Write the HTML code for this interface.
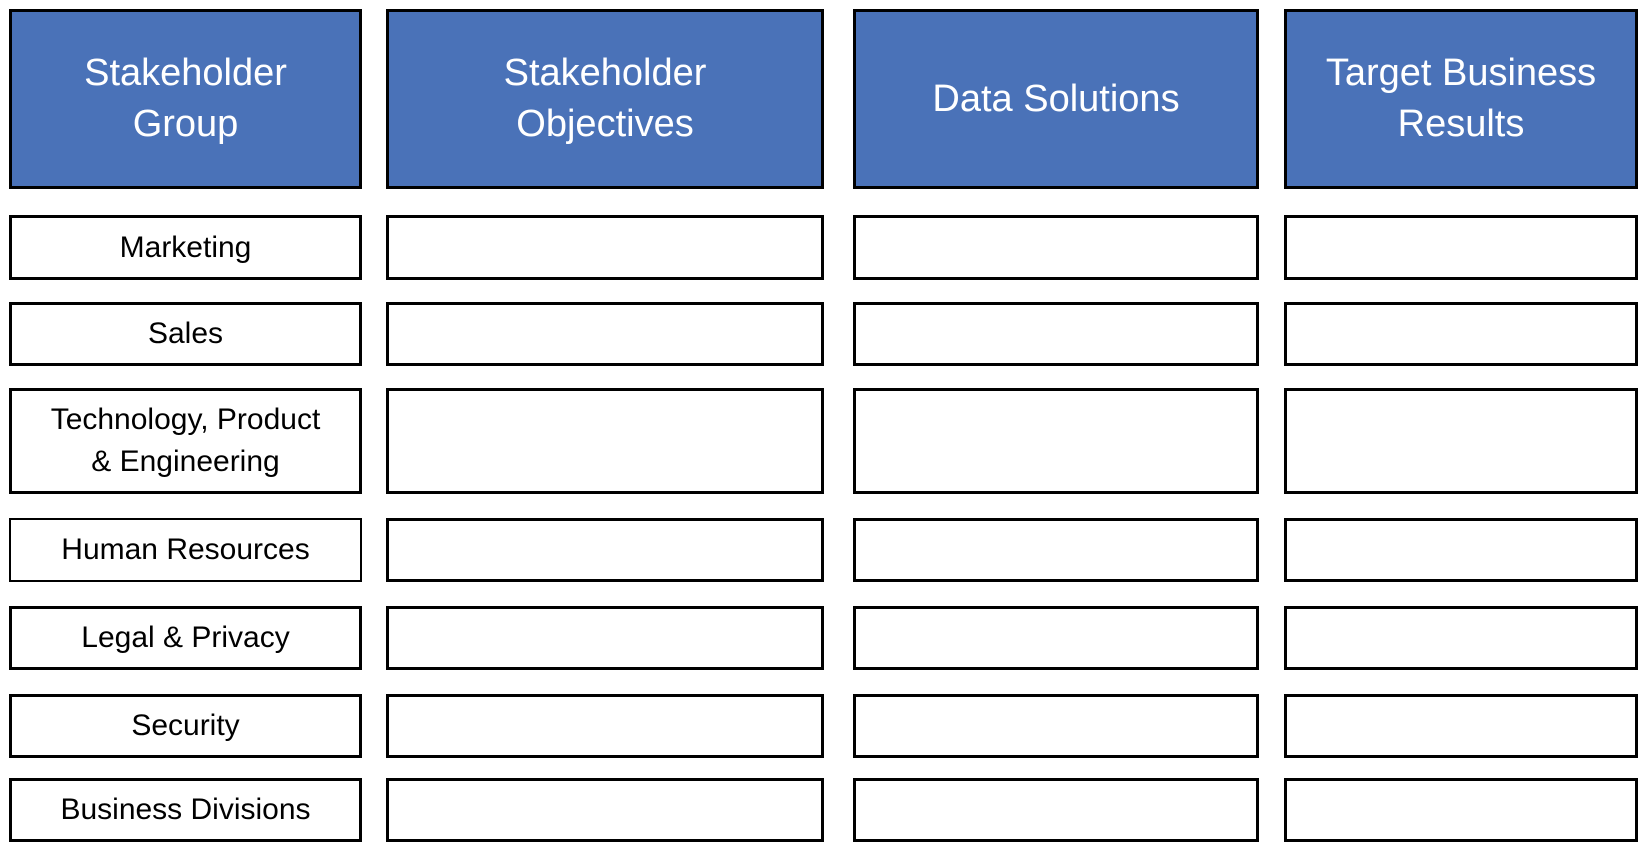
<!DOCTYPE html>
<html><head><style>
body{margin:0;width:1645px;height:850px;background:#fff;position:relative;overflow:hidden;font-family:"Liberation Sans",sans-serif}
.b{position:absolute;box-sizing:border-box;border:3px solid #000;display:flex;align-items:center;justify-content:center;text-align:center}
.h{background:#4a72b8;color:#fff;font-size:38px;line-height:51px}
.r{background:#fff;color:#000;font-size:30px;line-height:42px}
</style></head><body>
<div class="b h" style="left:9px;top:9px;width:353px;height:180px">Stakeholder<br>Group</div>
<div class="b h" style="left:386px;top:9px;width:438px;height:180px">Stakeholder<br>Objectives</div>
<div class="b h" style="left:853px;top:9px;width:406px;height:180px">Data Solutions</div>
<div class="b h" style="left:1284px;top:9px;width:354px;height:180px">Target Business<br>Results</div>

<div class="b r" style="left:9px;top:215px;width:353px;height:65px">Marketing</div>
<div class="b r" style="left:9px;top:302px;width:353px;height:64px">Sales</div>
<div class="b r" style="left:9px;top:388px;width:353px;height:106px">Technology, Product<br>&amp; Engineering</div>
<div class="b r" style="left:9px;top:518px;width:353px;height:64px;border-width:2px">Human Resources</div>
<div class="b r" style="left:9px;top:606px;width:353px;height:64px">Legal &amp; Privacy</div>
<div class="b r" style="left:9px;top:694px;width:353px;height:64px">Security</div>
<div class="b r" style="left:9px;top:778px;width:353px;height:64px">Business Divisions</div>

<div class="b r" style="left:386px;top:215px;width:438px;height:65px"></div>
<div class="b r" style="left:386px;top:302px;width:438px;height:64px"></div>
<div class="b r" style="left:386px;top:388px;width:438px;height:106px"></div>
<div class="b r" style="left:386px;top:518px;width:438px;height:64px"></div>
<div class="b r" style="left:386px;top:606px;width:438px;height:64px"></div>
<div class="b r" style="left:386px;top:694px;width:438px;height:64px"></div>
<div class="b r" style="left:386px;top:778px;width:438px;height:64px"></div>

<div class="b r" style="left:853px;top:215px;width:406px;height:65px"></div>
<div class="b r" style="left:853px;top:302px;width:406px;height:64px"></div>
<div class="b r" style="left:853px;top:388px;width:406px;height:106px"></div>
<div class="b r" style="left:853px;top:518px;width:406px;height:64px"></div>
<div class="b r" style="left:853px;top:606px;width:406px;height:64px"></div>
<div class="b r" style="left:853px;top:694px;width:406px;height:64px"></div>
<div class="b r" style="left:853px;top:778px;width:406px;height:64px"></div>

<div class="b r" style="left:1284px;top:215px;width:354px;height:65px"></div>
<div class="b r" style="left:1284px;top:302px;width:354px;height:64px"></div>
<div class="b r" style="left:1284px;top:388px;width:354px;height:106px"></div>
<div class="b r" style="left:1284px;top:518px;width:354px;height:64px"></div>
<div class="b r" style="left:1284px;top:606px;width:354px;height:64px"></div>
<div class="b r" style="left:1284px;top:694px;width:354px;height:64px"></div>
<div class="b r" style="left:1284px;top:778px;width:354px;height:64px"></div>
</body></html>
